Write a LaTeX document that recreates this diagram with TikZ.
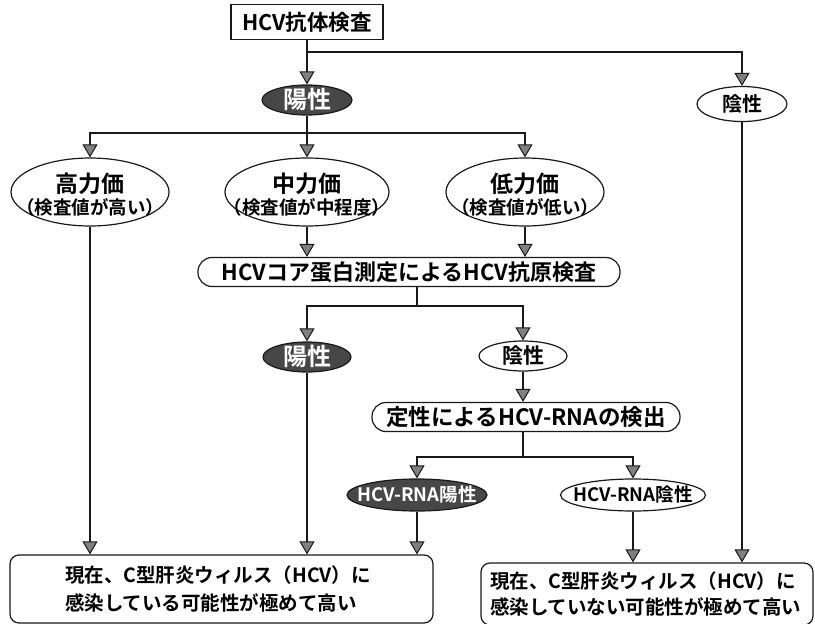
\documentclass[tikz,border=0pt]{standalone}
\usepackage{fontspec}
\setmainfont{Noto Sans CJK JP}[BoldFont={* Bold}]
\usetikzlibrary{arrows.meta,shapes.geometric}
\newcommand{\zc}[2][-0.37em]{\makebox[0pt]{\raisebox{#1}[0pt][0pt]{#2}}}
\newcommand{\twoline}[2]{\zc[0pt]{\fontsize{23}{25}\selectfont #1}\zc[-22pt]{\fontsize{18.5}{20}\selectfont #2}}
\tikzset{
  conn/.style={draw=black!90, line width=2.8pt},
  arr/.style={conn, -{Triangle[length=13pt,width=15pt,fill=black!50,line width=1pt]}},
  wellipse/.style={ellipse, draw=black!90, line width=1.2pt, fill=white, inner sep=0pt},
  dellipse/.style={ellipse, draw=black!90, line width=1.2pt, fill=black!72, text=white, inner sep=0pt},
  stad/.style={rectangle, rounded corners=14pt, draw=black!90, line width=1.2pt, inner sep=0pt},
  rbox/.style={rectangle, rounded corners=9pt, draw=black!90, line width=1.2pt, inner ysep=0pt, align=left},
}
\begin{document}
\bfseries
\begin{tikzpicture}[x=1pt,y=-1pt]
\useasboundingbox (0,0) rectangle (815,624);
% nodes
\node[rectangle, draw=black!90, line width=1.3pt, minimum width=152pt, minimum height=35pt, inner sep=0pt, font=\fontsize{21.5}{24}\selectfont] (ab) at (307,22) {HCV抗体検査};
\node[dellipse, minimum width=90pt, minimum height=30pt, font=\fontsize{24}{26}\selectfont] (p1) at (307,100) {\zc{陽性}};
\node[wellipse, minimum width=90pt, minimum height=35pt, font=\fontsize{20}{24}\selectfont] (n1) at (742,104) {\zc{陰性}};
\node[wellipse, minimum width=158pt, minimum height=68pt] (hi) at (90,192) {\twoline{高力価}{（検査値が高い）}};
\node[wellipse, minimum width=164pt, minimum height=68pt] (mid) at (307,192) {\twoline{中力価}{（検査値が中程度）}};
\node[wellipse, minimum width=158pt, minimum height=68pt] (lo) at (525,192) {\twoline{低力価}{（検査値が低い）}};
\node[stad, minimum width=422pt, minimum height=29pt, font=\fontsize{22}{24}\selectfont] (core) at (409,272) {HCVコア蛋白測定によるHCV抗原検査};
\node[dellipse, minimum width=88pt, minimum height=30pt, font=\fontsize{24}{26}\selectfont] (p2) at (307,357) {\zc{陽性}};
\node[wellipse, minimum width=88pt, minimum height=30pt, font=\fontsize{21}{24}\selectfont] (n2) at (523,356) {\zc{陰性}};
\node[stad, minimum width=308pt, minimum height=29pt, font=\fontsize{22.5}{24}\selectfont] (rna) at (526,417) {定性によるHCV-RNAの検出};
\node[dellipse, minimum width=140pt, minimum height=32pt, font=\fontsize{18.5}{22}\selectfont] (rp) at (417,495) {\zc{HCV-RNA陽性}};
\node[wellipse, minimum width=145pt, minimum height=32pt, font=\fontsize{18.5}{22}\selectfont] (rn) at (633,495) {\zc{HCV-RNA陰性}};
\node[rbox, minimum width=423pt, minimum height=68pt, inner xsep=55pt, text width=313pt, font=\fontsize{19.5}{28}\selectfont] (bl) at (221.5,589) {現在、C型肝炎ウィルス（HCV）に\\感染している可能性が極めて高い};
\node[rbox, minimum width=332pt, minimum height=62pt, inner xsep=9pt, text width=314pt, font=\fontsize{19.5}{26}\selectfont] (br) at (647,594) {現在、C型肝炎ウィルス（HCV）に\\感染していない可能性が極めて高い};
% junctions
\coordinate (j1) at (307,52);
\coordinate (j2) at (307,133);
\coordinate (j3) at (417,306);
\coordinate (j4) at (523,457);
% connectors
\draw[arr] (ab.south) -- (p1.north);
\draw[arr] (j1) -| (n1.north);
\draw[conn] (p1.south) -- (j2);
\draw[arr] (j2) -| (hi.north);
\draw[arr] (j2) -- (mid.north);
\draw[arr] (j2) -| (lo.north);
\draw[arr] (mid.south) -- (mid.south |- core.north);
\draw[arr] (lo.south) -- (lo.south |- core.north);
\draw[conn] (core.south -| j3) -- (j3);
\draw[arr] (j3) -| (p2.north);
\draw[arr] (j3) -| (n2.north);
\draw[arr] (n2.south) -- (n2.south |- rna.north);
\draw[conn] (rna.south -| j4) -- (j4);
\draw[arr] (j4) -| (rp.north);
\draw[arr] (j4) -| (rn.north);
\draw[arr] (hi.south) -- (hi.south |- bl.north);
\draw[arr] (p2.south) -- (p2.south |- bl.north);
\draw[arr] (rp.south) -- (rp.south |- bl.north);
\draw[arr] (rn.south) -- (rn.south |- br.north);
\draw[arr] (n1.south) -- (n1.south |- br.north);
\end{tikzpicture}
\end{document}
